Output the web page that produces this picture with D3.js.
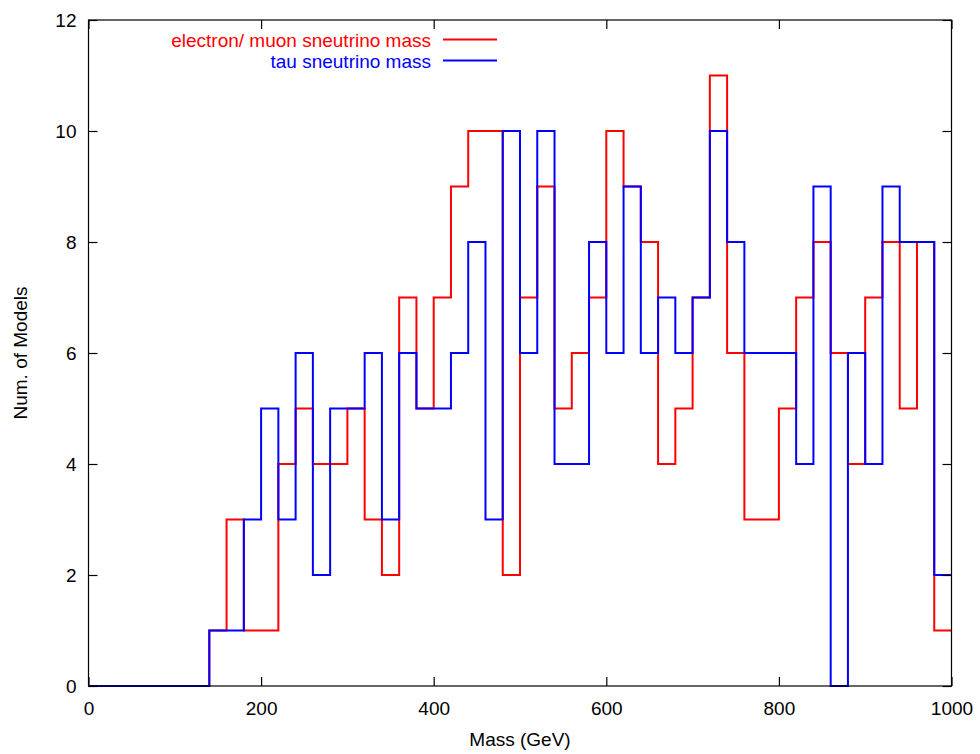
<!DOCTYPE html>
<html>
<head>
<meta charset="utf-8">
<script src="https://cdn.jsdelivr.net/npm/d3@7"></script>
<style>
  html, body { margin: 0; padding: 0; background: #fff; }
  svg { display: block; }
  text { font-family: "Liberation Sans", Arial, Helvetica, sans-serif; }
</style>
</head>
<body>
<svg id="chart" width="980" height="754"></svg>
<script>
// Histogram bins: 20 GeV wide, from 0 to 1000 GeV
const binStarts = d3.range(0, 1000, 20);
const binWidth = 20;

// Counts per bin for the electron/muon sneutrino mass
const electronMuonCounts = [
  0, 0, 0, 0, 0, 0, 0, 1, 3, 1,
  1, 4, 5, 4, 4, 5, 3, 2, 7, 5,
  7, 9, 10, 10, 2, 7, 9, 5, 6, 7,
  10, 9, 8, 4, 5, 7, 11, 6, 3, 3,
  5, 7, 8, 6, 4, 7, 8, 5, 8, 1
];

// Counts per bin for the tau sneutrino mass
const tauCounts = [
  0, 0, 0, 0, 0, 0, 0, 1, 1, 3,
  5, 3, 6, 2, 5, 5, 6, 3, 6, 5,
  5, 6, 8, 3, 10, 6, 10, 4, 4, 8,
  6, 9, 6, 7, 6, 7, 10, 8, 6, 6,
  6, 4, 9, 0, 6, 4, 9, 8, 8, 2
];

const xTicks = [0, 200, 400, 600, 800, 1000];
const yTicks = [0, 2, 4, 6, 8, 10, 12];

const seriesNames = ["electron/ muon sneutrino mass", "tau sneutrino mass"];
const seriesColors = ["#ff0000", "#0000ff"];

const plotLeft = 88.5, plotRight = 951.5, plotTop = 20, plotBottom = 686;
const tickLen = 9;
const fontSize = 19;

const svg = d3.select("#chart");

const x = d3.scaleLinear().domain([0, 1000]).range([plotLeft, plotRight]);
const y = d3.scaleLinear().domain([0, 12]).range([plotBottom, plotTop]);

// Step outline: each bin start, plus a closing point at the last bin's right edge
function stepPoints(counts) {
  const pts = binStarts.map((b, i) => [b, counts[i]]);
  pts.push([binStarts[binStarts.length - 1] + binWidth, counts[counts.length - 1]]);
  return pts;
}

const line = d3.line()
  .x(d => x(d[0]))
  .y(d => y(d[1]))
  .curve(d3.curveStepAfter);

const series = [electronMuonCounts, tauCounts];

svg.append("defs").append("clipPath").attr("id", "plotClip")
  .append("rect")
  .attr("x", plotLeft - 1).attr("y", plotTop - 1)
  .attr("width", plotRight - plotLeft + 2).attr("height", plotBottom - plotTop + 2);

const plot = svg.append("g").attr("clip-path", "url(#plotClip)");
series.forEach((counts, i) => {
  plot.append("path")
    .datum(stepPoints(counts))
    .attr("d", line)
    .attr("fill", "none")
    .attr("stroke", seriesColors[i])
    .attr("stroke-width", 2)
    .attr("stroke-linejoin", "miter");
});

// Axes with inward ticks on all four sides
const axisStyle = g => {
  g.select(".domain").remove();
  g.selectAll(".tick line").attr("stroke", "#000").attr("stroke-width", 1.2);
  g.selectAll(".tick text")
    .attr("font-size", fontSize)
    .attr("font-family", "Liberation Sans, Arial, sans-serif")
    .attr("fill", "#000");
};

svg.append("g")
  .attr("transform", `translate(0,${plotBottom})`)
  .call(d3.axisBottom(x).tickValues(xTicks).tickSize(-tickLen).tickFormat(d3.format("d")))
  .call(axisStyle)
  .call(g => g.selectAll(".tick text").attr("y", 16).attr("dy", "0.71em"));

svg.append("g")
  .attr("transform", `translate(0,${plotTop})`)
  .call(d3.axisTop(x).tickValues(xTicks).tickSize(-tickLen).tickFormat(""))
  .call(axisStyle);

svg.append("g")
  .attr("transform", `translate(${plotLeft},0)`)
  .call(d3.axisLeft(y).tickValues(yTicks).tickSize(-tickLen).tickFormat(d3.format("d")))
  .call(axisStyle)
  .call(g => g.selectAll(".tick text").attr("x", -12).attr("dy", "0.36em"));

svg.append("g")
  .attr("transform", `translate(${plotRight},0)`)
  .call(d3.axisRight(y).tickValues(yTicks).tickSize(-tickLen).tickFormat(""))
  .call(axisStyle);

// Frame
svg.append("rect")
  .attr("x", plotLeft).attr("y", plotTop)
  .attr("width", plotRight - plotLeft).attr("height", plotBottom - plotTop)
  .attr("fill", "none")
  .attr("stroke", "#000")
  .attr("stroke-width", 1.2);

// Axis titles
svg.append("text")
  .attr("x", (plotLeft + plotRight) / 2)
  .attr("y", 746)
  .attr("text-anchor", "middle")
  .attr("font-size", fontSize)
  .text("Mass (GeV)");

svg.append("text")
  .attr("transform", `translate(27,${(plotTop + plotBottom) / 2}) rotate(-90)`)
  .attr("text-anchor", "middle")
  .attr("font-size", fontSize)
  .text("Num. of Models");

// Legend
const legend = svg.append("g");
seriesNames.forEach((name, i) => {
  const ly = 39.5 + i * 21;
  legend.append("text")
    .attr("x", 431)
    .attr("y", ly + 7)
    .attr("text-anchor", "end")
    .attr("font-size", fontSize)
    .attr("fill", seriesColors[i])
    .text(name);
  legend.append("line")
    .attr("x1", 443).attr("x2", 497)
    .attr("y1", ly).attr("y2", ly)
    .attr("stroke", seriesColors[i])
    .attr("stroke-width", 2);
});
</script>
</body>
</html>
